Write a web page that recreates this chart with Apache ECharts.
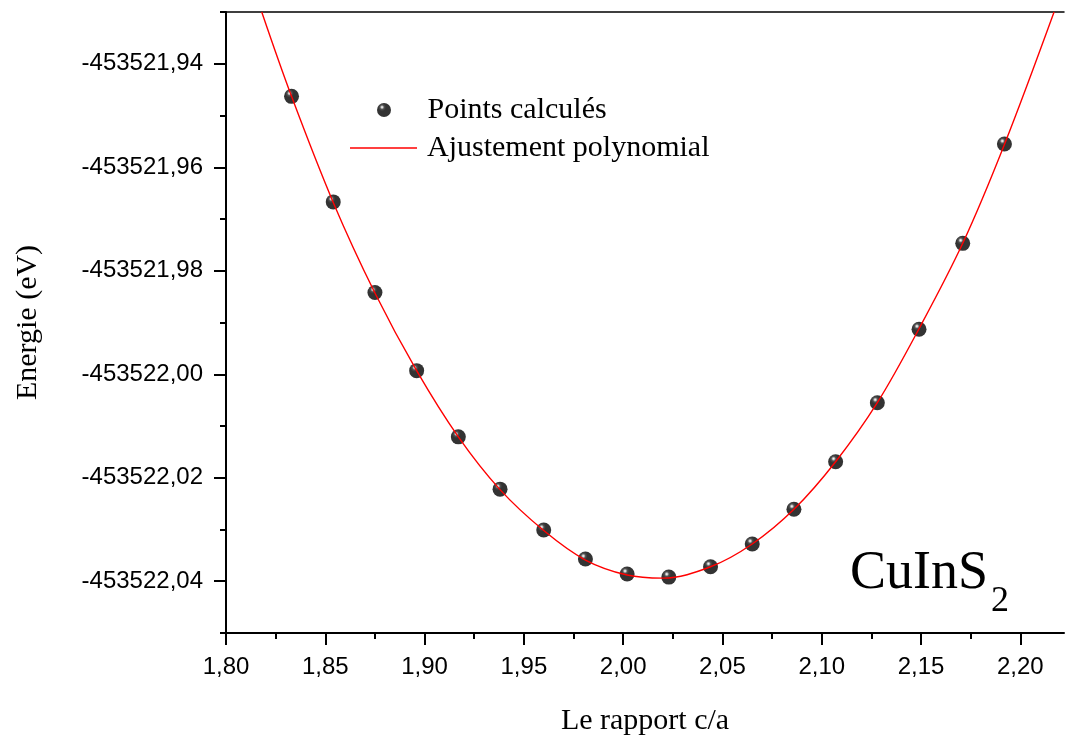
<!DOCTYPE html>
<html>
<head>
<meta charset="utf-8">
<title>CuInS2 - energie vs c/a</title>
<script src="https://cdn.jsdelivr.net/npm/echarts@6/dist/echarts.min.js"></script>
<style>
    html, body { margin: 0; padding: 0; background: #fff; }
    #chart { width: 1065px; height: 738px; }
</style>
</head>
<body>
<div id="chart"></div>
<script>
    'use strict';

    // points calcules (c/a , energie eV)
    let caRatio = [1.833, 1.854, 1.875, 1.896, 1.917, 1.938, 1.960, 1.981, 2.002,
                   2.023, 2.044, 2.065, 2.086, 2.107, 2.128, 2.149, 2.171, 2.192];
    let energy = [-453521.9463, -453521.9667, -453521.9842, -453521.9993, -453522.0121,
                  -453522.0222, -453522.0301, -453522.0357, -453522.0386, -453522.0392,
                  -453522.0372, -453522.0328, -453522.0261, -453522.0169, -453522.0055,
                  -453521.9913, -453521.9747, -453521.9555];

    let fitX = [1.818, 1.833, 1.854, 1.875, 1.896, 1.917, 1.938, 1.960, 1.981, 2.002,
                2.020, 2.044, 2.065, 2.086, 2.107, 2.128, 2.149, 2.171, 2.192, 2.217];
    let fitY = [-453521.9300, -453521.9463, -453521.9668, -453521.9843, -453521.9993,
                -453522.0121, -453522.0223, -453522.0302, -453522.0359, -453522.0388,
                -453522.0394, -453522.0372, -453522.0328, -453522.0261, -453522.0169,
                -453522.0055, -453521.9912, -453521.9747, -453521.9556, -453521.9300];

    // graduations
    let xTicks = [1.80, 1.85, 1.90, 1.95, 2.00, 2.05, 2.10, 2.15, 2.20];
    let xMinorTicks = [1.825, 1.875, 1.925, 1.975, 2.025, 2.075, 2.125, 2.175];
    let yTicks = [-453522.04, -453522.02, -453522.00, -453521.98, -453521.96, -453521.94];
    let yMinorTicks = [-453522.05, -453522.03, -453522.01, -453521.99, -453521.97, -453521.95, -453521.93];

    let X_MIN = 1.80, X_MAX = 2.222;
    let Y_MIN = -453522.05, Y_MAX = -453521.93;

    let SERIF = '"Liberation Serif", "Times New Roman", serif';
    let SANS = '"Liberation Sans", Arial, sans-serif';

    function commaFmt(v) {
        return Number(v).toFixed(2).replace('.', ',');
    }

    let pointsData = caRatio.map((x, i) => [x, energy[i]]);
    let fitData = fitX.map((x, i) => [x, fitY[i]]);

    // petite bille noire avec reflet
    let ball = {
        type: 'radial', x: 0.36, y: 0.3, r: 0.7,
        colorStops: [
            { offset: 0, color: '#ffffff' },
            { offset: 0.08, color: '#c8c8c8' },
            { offset: 0.22, color: '#262626' },
            { offset: 0.4, color: '#000000' },
            { offset: 1, color: '#000000' }
        ]
    };

    let blackLine = { color: '#000', width: 2 };

    let chart = echarts.init(document.getElementById('chart'), null, { renderer: 'canvas' });

    let option = {
        animation: false,
        backgroundColor: '#fff',
        grid: {
            left: 226, top: 12, right: 1, bottom: 105,
            containLabel: false, outerBoundsMode: 'none'
        },
        legend: [
            {
                left: 377, top: 95, padding: 0, orient: 'vertical',
                itemWidth: 67, itemHeight: 14, selectedMode: false,
                data: [{ name: 'Points calculés', icon: 'circle' }],
                textStyle: { fontFamily: SERIF, fontSize: 30, color: '#000', padding: [0, 0, 0, 5] }
            },
            {
                left: 350, top: 133, padding: 0, orient: 'vertical',
                itemWidth: 67, itemHeight: 1.3, selectedMode: false,
                data: [{ name: 'Ajustement polynomial', icon: 'rect' }],
                textStyle: { fontFamily: SERIF, fontSize: 30, color: '#000', padding: [0, 0, 0, 5] }
            }
        ],
        xAxis: [
            {
                type: 'value', position: 'bottom', min: X_MIN, max: X_MAX,
                name: 'Le rapport c/a', nameLocation: 'middle', nameGap: 73,
                nameTextStyle: { fontFamily: SERIF, fontSize: 30, color: '#000' },
                axisLine: { show: true, lineStyle: blackLine },
                axisTick: { show: true, length: 12, lineStyle: blackLine, customValues: xTicks },
                axisLabel: {
                    show: true, margin: 22, fontFamily: SANS, fontSize: 24, color: '#000',
                    customValues: xTicks, formatter: commaFmt
                },
                splitLine: { show: false }
            },
            {
                // petites graduations
                type: 'value', position: 'bottom', min: X_MIN, max: X_MAX,
                axisLine: { show: false },
                axisTick: { show: true, length: 6, lineStyle: blackLine, customValues: xMinorTicks },
                axisLabel: { show: false },
                splitLine: { show: false }
            },
            {
                // cadre du haut
                type: 'value', position: 'top', min: X_MIN, max: X_MAX,
                axisLine: { show: true, lineStyle: { color: '#000', width: 1.5 } },
                axisTick: { show: false },
                axisLabel: { show: false },
                splitLine: { show: false }
            }
        ],
        yAxis: [
            {
                type: 'value', position: 'left', min: Y_MIN, max: Y_MAX, scale: true,
                name: 'Energie (eV)', nameLocation: 'middle', nameGap: 183,
                nameTextStyle: { fontFamily: SERIF, fontSize: 30, color: '#000' },
                axisLine: { show: true, lineStyle: blackLine },
                axisTick: { show: true, length: 12, lineStyle: blackLine, customValues: yTicks },
                axisLabel: {
                    show: true, margin: 23, fontFamily: SANS, fontSize: 24, color: '#000',
                    customValues: yTicks, formatter: commaFmt
                },
                splitLine: { show: false }
            },
            {
                type: 'value', position: 'left', min: Y_MIN, max: Y_MAX, scale: true,
                axisLine: { show: false },
                axisTick: { show: true, length: 6, lineStyle: blackLine, customValues: yMinorTicks },
                axisLabel: { show: false },
                splitLine: { show: false }
            }
        ],
        series: [
            {
                name: 'Points calculés',
                type: 'scatter',
                xAxisIndex: 0, yAxisIndex: 0,
                symbol: 'circle', symbolSize: 15,
                itemStyle: { color: ball },
                data: pointsData,
                z: 2
            },
            {
                name: 'Ajustement polynomial',
                type: 'line',
                xAxisIndex: 0, yAxisIndex: 0,
                symbol: 'none', smooth: 0.35, clip: true,
                lineStyle: { color: '#ff0000', width: 1.4 },
                itemStyle: { color: '#ff0000' },
                data: fitData,
                z: 3
            }
        ],
        graphic: [
            {
                type: 'text', left: 850, top: 547, silent: true,
                style: { text: 'CuInS', fontFamily: SERIF, fontSize: 54, fill: '#000' }
            },
            {
                type: 'text', left: 991, top: 584, silent: true,
                style: { text: '2', fontFamily: SERIF, fontSize: 36, fill: '#000' }
            }
        ]
    };

    chart.setOption(option);
</script>
</body>
</html>
